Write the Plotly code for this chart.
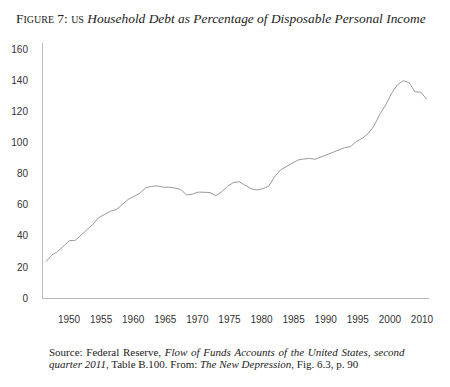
import plotly.graph_objects as go
import numpy as np

years = list(range(1946, 2012))
debt_pct = [
    23.4, 27.7, 30.0, 33.5, 37.0, 37.2, 40.5, 44.0, 47.5, 51.8,
    54.0, 56.0, 57.0, 60.5, 63.5, 65.5, 67.5, 71.0, 72.0, 72.3,
    71.5, 71.5, 71.0, 70.0, 66.5, 67.0, 68.3, 68.2, 68.0, 66.0,
    68.5, 72.0, 74.5, 75.0, 73.0, 70.5, 69.7, 70.5, 72.0, 78.0,
    82.5, 84.5, 87.0, 89.0, 89.7, 90.0, 89.5, 91.0, 93.0, 94.5,
    96.0, 97.0, 97.6, 101.0, 103.0, 106.0, 111.0, 118.5, 124.5, 132.0,
    137.5, 140.2, 138.9, 133.0, 132.8, 128.2,
]
x_tick_labels = ["1950", "1955", "1960", "1965", "1970", "1975", "1980",
                 "1985", "1990", "1995", "2000", "2010"]
y_ticks = [0, 20, 40, 60, 80, 100, 120, 140, 160]

# label positions on the axis (as drawn in the original)
x_tick_pos = list(np.linspace(1949.93, 2010.2, len(x_tick_labels)))

fig = go.Figure()
fig.add_trace(go.Scatter(
    x=years, y=debt_pct, mode="lines",
    line=dict(color="#9a9a9a", width=1),
    hoverinfo="skip", showlegend=False,
))

axis_font = dict(family="Liberation Sans, Arial, sans-serif", size=10, color="#333333")
serif = "Liberation Serif, Times New Roman, serif"

# justified first source line: widen word gaps slightly
gap = " &#8202;"
line1 = gap.join(["Source:", "Federal", "Reserve,", "<i>Flow", "of", "Funds", "Accounts",
                  "of", "the", "United", "States,", "second</i>"])

fig.update_layout(
    width=442, height=379,
    margin=dict(l=35, r=21, t=35, b=89),
    paper_bgcolor="white", plot_bgcolor="white",
    xaxis=dict(
        range=[1945.49, 2011.4], showgrid=False, zeroline=False,
        showline=True, linecolor="#bbbbbb", linewidth=1, automargin=False,
        tickmode="array", tickvals=x_tick_pos, ticktext=x_tick_labels,
        ticks="", tickfont=axis_font, ticklabelstandoff=12,
    ),
    yaxis=dict(
        range=[0, 164.5], showgrid=False, zeroline=False,
        showline=True, linecolor="#bbbbbb", linewidth=1, automargin=False,
        tickmode="array", tickvals=y_ticks,
        ticks="", tickfont=axis_font, ticklabelstandoff=12,
    ),
    annotations=[
        dict(
            xref="paper", yref="paper", x=-0.0751, y=1.098,
            xanchor="left", yanchor="middle", showarrow=False,
            text=("F<span style='font-size:10px'>IGURE</span> 7: "
                  "<span style='font-size:10px'>US</span> "
                  "<i>Household Debt as Percentage of Disposable Personal Income</i>"),
            font=dict(family=serif, size=13.4, color="#222222"),
        ),
        dict(
            xref="paper", yref="paper", x=0.0104, y=-0.2118,
            xanchor="left", yanchor="middle", align="left", showarrow=False,
            text=line1,
            font=dict(family=serif, size=11, color="#222222"),
        ),
        dict(
            xref="paper", yref="paper", x=0.0104, y=-0.2588,
            xanchor="left", yanchor="middle", align="left", showarrow=False,
            text="<i>quarter 2011</i>, Table B.100. From: <i>The New Depression</i>, Fig. 6.3, p. 90",
            font=dict(family=serif, size=11, color="#222222"),
        ),
    ],
)

fig.write_html("out.html")
